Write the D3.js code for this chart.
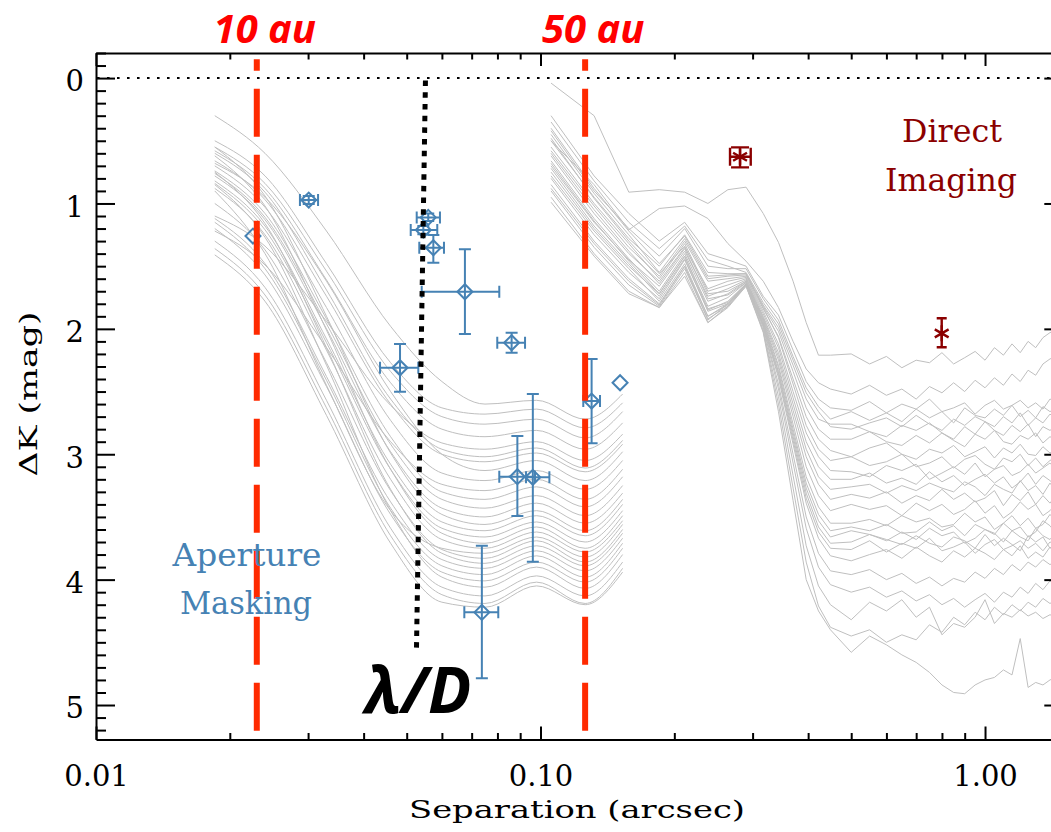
<!DOCTYPE html>
<html>
<head>
<meta charset="utf-8">
<script src="https://cdn.jsdelivr.net/npm/d3@7"></script>
<style>
  body { margin: 0; background: #fff; }
  svg { display: block; }
</style>
</head>
<body>
<svg id="chart" width="1051" height="832"></svg>
<script>
// ---------------------------------------------------------------
// Contrast curves: aperture masking (inner) and direct imaging (outer)
// ---------------------------------------------------------------

// Aperture-masking contrast curves, ΔK sampled at these separations (arcsec)
const amSep = [0.0185, 0.024, 0.033, 0.046, 0.060, 0.075, 0.098, 0.126, 0.153];
const amCurves = [
  [0.30, 0.60, 1.22, 1.98, 2.42, 2.60, 2.57, 2.72, 2.52],
  [0.50, 0.78, 1.48, 2.27, 2.63, 2.68, 2.64, 2.79, 2.59],
  [0.55, 0.84, 1.54, 2.34, 2.70, 2.76, 2.72, 2.87, 2.66],
  [0.58, 0.88, 1.61, 2.43, 2.80, 2.86, 2.81, 2.96, 2.75],
  [1.10, 1.34, 1.94, 2.61, 2.91, 2.96, 2.90, 3.05, 2.84],
  [0.66, 0.97, 1.74, 2.60, 3.00, 3.06, 2.99, 3.14, 2.92],
  [0.68, 0.95, 1.62, 2.50, 3.00, 3.13, 3.05, 3.21, 2.98],
  [0.70, 1.03, 1.83, 2.73, 3.15, 3.21, 3.13, 3.28, 3.05],
  [1.22, 1.49, 2.15, 2.90, 3.24, 3.29, 3.20, 3.36, 3.12],
  [0.74, 1.08, 1.92, 2.86, 3.30, 3.36, 3.26, 3.42, 3.18],
  [0.76, 1.11, 1.96, 2.92, 3.36, 3.43, 3.33, 3.49, 3.25],
  [0.78, 1.13, 2.00, 2.98, 3.43, 3.50, 3.39, 3.55, 3.31],
  [0.55, 0.94, 1.90, 2.99, 3.48, 3.56, 3.45, 3.61, 3.36],
  [0.82, 1.18, 2.08, 3.08, 3.54, 3.61, 3.49, 3.65, 3.40],
  [0.84, 1.21, 2.11, 3.12, 3.59, 3.66, 3.54, 3.70, 3.45],
  [0.62, 1.02, 2.01, 3.12, 3.63, 3.71, 3.58, 3.75, 3.49],
  [0.88, 1.25, 2.17, 3.20, 3.68, 3.75, 3.62, 3.78, 3.53],
  [0.60, 0.91, 1.69, 2.56, 2.96, 3.02, 2.95, 3.11, 2.89],
  [0.90, 1.40, 2.45, 3.45, 3.75, 3.79, 3.66, 3.82, 3.56],
  [1.00, 1.37, 2.27, 3.29, 3.76, 3.83, 3.69, 3.86, 3.60],
  [0.75, 1.16, 2.15, 3.28, 3.79, 3.87, 3.73, 3.89, 3.63],
  [1.12, 1.48, 2.38, 3.38, 3.84, 3.91, 3.77, 3.93, 3.67],
  [1.15, 1.52, 2.41, 3.43, 3.89, 3.96, 3.81, 3.98, 3.71],
  [1.20, 1.57, 2.46, 3.48, 3.94, 4.01, 3.86, 4.02, 3.75],
  [0.85, 1.27, 2.29, 3.45, 3.98, 4.06, 3.90, 4.07, 3.80],
  [1.30, 1.67, 2.57, 3.59, 4.06, 4.13, 3.97, 4.13, 3.86],
  [1.36, 1.73, 2.63, 3.65, 4.12, 4.19, 4.02, 4.19, 3.91],
  [1.41, 1.78, 2.69, 3.71, 4.18, 4.22, 4.05, 4.20, 3.94]
];

// Direct-imaging contrast curves, ΔK sampled at these separations (arcsec)
const diSep = [0.1056, 0.132, 0.158, 0.185, 0.211, 0.238, 0.264, 0.290,
  0.317, 0.343, 0.370, 0.396, 0.422, 0.449, 0.50, 0.55, 0.60, 0.65, 0.70,
  0.75, 0.80, 0.85, 0.90, 0.95, 1.00, 1.05, 1.10, 1.15, 1.20, 1.25, 1.30,
  1.35, 1.40, 1.45];
const diCurves = [
  [0.04,0.30,0.91,0.89,0.91,1.00,0.89,0.87, 1.08,1.31,1.62,1.95,2.21,2.21, 2.20,2.28,2.22,2.31,2.25,2.27,2.19,2.28,2.23,2.18, 2.25,2.15,2.21,2.12,2.19,2.10,2.15,2.07,2.03,2.01],
  [0.50,0.85,1.21,1.04,1.02,1.12,1.32,1.46, 1.62,1.83,2.10,2.32,2.43,2.48, 2.52,2.45,2.53,2.48,2.56,2.46,2.51,2.43,2.50,2.41, 2.47,2.39,2.45,2.36,2.42,2.33,2.37,2.28,2.24,2.22],
  [0.30,0.78,1.08,1.30,1.15,1.40,1.45,1.50, 1.74,1.89,2.17,2.42,2.56,2.63, 2.65,2.58,2.67,2.60,2.64,2.56,2.66,2.63,2.59,2.68, 2.61,2.57,2.64,2.61,2.57,2.63,2.59,2.64,2.56,2.58],
  [0.42,0.90,1.20,1.42,1.20,1.50,1.52,1.52, 1.76,1.93,2.22,2.47,2.62,2.72, 2.66,2.73,2.67,2.74,2.64,2.71,2.66,2.75,2.63,2.69, 2.71,2.64,2.69,2.61,2.70,2.65,2.71,2.62,2.66,2.63],
  [0.35,0.82,1.15,1.36,1.18,1.45,1.50,1.55, 1.79,1.96,2.25,2.51,2.66,2.78, 2.80,2.75,2.71,2.78,2.69,2.76,2.81,2.72,2.77,2.70, 2.74,2.78,2.70,2.75,2.67,2.77,2.71,2.75,2.68,2.72],
  [0.50,0.95,1.28,1.50,1.25,1.55,1.56,1.56, 1.81,1.99,2.29,2.56,2.72,2.76, 2.76,2.82,2.86,2.77,2.81,2.75,2.83,2.88,2.78,2.84, 2.74,2.81,2.85,2.77,2.82,2.76,2.86,2.78,2.81,2.77],
  [0.45,0.92,1.25,1.55,1.28,1.60,1.58,1.57, 1.82,2.02,2.34,2.63,2.80,2.88, 2.88,2.82,2.90,2.93,2.85,2.91,2.83,2.89,2.94,2.84, 2.88,2.81,2.90,2.92,2.85,2.88,2.83,2.91,2.86,2.89],
  [0.58,1.02,1.35,1.58,1.30,1.62,1.60,1.58, 1.84,2.06,2.40,2.70,2.88,2.97, 3.02,2.95,2.91,3.00,3.04,2.96,2.99,2.93,3.02,2.98, 2.94,3.03,2.95,2.99,2.92,3.00,3.01,2.94,2.99,2.96],
  [0.40,0.88,1.22,1.48,1.26,1.58,1.57,1.56, 1.83,2.07,2.44,2.77,2.96,3.05, 3.02,3.09,3.06,3.00,3.10,3.07,3.02,3.11,3.04,3.01, 3.08,3.12,3.03,3.06,3.00,3.09,3.03,3.10,3.05,3.02],
  [0.62,1.08,1.40,1.62,1.35,1.68,1.62,1.59, 1.86,2.12,2.50,2.83,3.02,3.13, 3.14,3.18,3.09,3.13,3.08,3.20,3.15,3.10,3.16,3.07, 3.18,3.12,3.09,3.17,3.14,3.08,3.15,3.11,3.07,3.13],
  [0.55,1.00,1.32,1.60,1.32,1.70,1.65,1.60, 1.88,2.15,2.55,2.90,3.10,3.20, 3.20,3.15,3.23,3.19,3.24,3.14,3.22,3.17,3.25,3.20, 3.16,3.23,3.18,3.27,3.22,3.15,3.24,3.17,3.21,3.26],
  [0.70,1.15,1.45,1.66,1.38,1.74,1.68,1.61, 1.90,2.19,2.60,2.96,3.18,3.28, 3.26,3.24,3.31,3.25,3.29,3.23,3.27,3.30,3.22,3.26, 3.33,3.24,3.28,3.31,3.21,3.29,3.25,3.32,3.23,3.30],
  [0.48,0.96,1.30,1.56,1.34,1.72,1.70,1.62, 1.91,2.22,2.65,3.02,3.24,3.36, 3.32,3.35,3.30,3.39,3.33,3.37,3.28,3.36,3.31,3.38, 3.35,3.29,3.41,3.32,3.37,3.30,3.40,3.33,3.39,3.32],
  [0.66,1.12,1.44,1.70,1.40,1.78,1.72,1.62, 1.92,2.25,2.70,3.10,3.33,3.45, 3.40,3.44,3.41,3.49,3.39,3.45,3.40,3.48,3.44,3.37, 3.47,3.41,3.51,3.46,3.38,3.44,3.40,3.49,3.45,3.39],
  [0.75,1.20,1.50,1.72,1.42,1.82,1.75,1.63, 1.93,2.29,2.76,3.18,3.42,3.55, 3.55,3.52,3.57,3.49,3.54,3.51,3.58,3.56,3.47,3.54, 3.50,3.60,3.55,3.49,3.57,3.51,3.59,3.56,3.48,3.54],
  [0.60,1.05,1.38,1.64,1.36,1.76,1.73,1.63, 1.94,2.31,2.80,3.23,3.48,3.61, 3.58,3.61,3.56,3.63,3.62,3.54,3.61,3.57,3.65,3.56, 3.60,3.64,3.55,3.61,3.58,3.66,3.62,3.53,3.57,3.64],
  [0.80,1.25,1.55,1.76,1.45,1.85,1.78,1.64, 1.95,2.34,2.83,3.27,3.53,3.66, 3.61,3.64,3.69,3.62,3.68,3.59,3.65,3.62,3.71,3.67, 3.60,3.63,3.70,3.61,3.66,3.69,3.59,3.65,3.68,3.61],
  [0.72,1.18,1.48,1.74,1.44,1.86,1.80,1.64, 1.96,2.35,2.86,3.31,3.58,3.71, 3.70,3.64,3.68,3.72,3.65,3.71,3.74,3.66,3.69,3.75, 3.64,3.73,3.67,3.72,3.77,3.65,3.70,3.66,3.75,3.71],
  [0.85,1.30,1.60,1.80,1.50,1.90,1.80,1.65, 1.97,2.37,2.89,3.35,3.62,3.75, 3.76,3.69,3.78,3.71,3.75,3.67,3.77,3.74,3.70,3.79, 3.72,3.68,3.76,3.73,3.69,3.75,3.71,3.77,3.70,3.72],
  [0.68,1.14,1.46,1.72,1.42,1.84,1.79,1.64, 1.97,2.39,2.92,3.39,3.67,3.81, 3.85,3.80,3.76,3.83,3.74,3.81,3.86,3.77,3.82,3.75, 3.79,3.84,3.76,3.81,3.73,3.83,3.78,3.82,3.74,3.79],
  [0.90,1.35,1.65,1.82,1.52,1.92,1.82,1.65, 1.98,2.44,3.00,3.50,3.79,3.93, 3.96,3.92,4.00,3.95,4.03,3.98,4.05,3.99,4.02,3.94, 3.99,3.91,3.96,3.88,3.93,3.86,3.90,3.84,3.88,3.85],
  [0.78,1.22,1.52,1.78,1.48,1.90,1.81,1.65, 1.99,2.48,3.07,3.59,3.90,4.04, 4.10,4.06,4.14,4.09,4.17,4.12,4.20,4.15,4.22,4.16, 4.11,4.18,4.10,4.14,4.06,4.11,4.03,4.08,4.01,4.05],
  [0.95,1.40,1.70,1.83,1.55,1.95,1.82,1.66, 2.01,2.54,3.17,3.73,4.05,4.20, 4.32,4.18,4.25,4.16,4.30,4.22,4.44,4.35,4.38,4.30, 4.16,4.35,4.27,4.30,4.24,4.29,4.26,4.31,4.28,4.30],
  [0.88,1.32,1.62,1.81,1.50,1.93,1.80,1.65, 2.02,2.60,3.27,3.86,4.21,4.38, 4.45,4.40,4.50,4.44,4.48,4.36,4.42,4.30,4.36,4.26, 4.32,4.22,4.28,4.20,4.25,4.18,4.22,4.15,4.19,4.16],
  [0.99,1.42,1.72,1.83,1.58,1.95,1.83,1.66, 2.03,2.66,3.37,4.00,4.25,4.40, 4.58,4.45,4.52,4.60,4.66,4.74,4.84,4.90,4.91,4.84, 4.80,4.78,4.72,4.76,4.47,4.86,4.82,4.84,4.80,4.78]
];

// Companions detected with aperture masking (separation, ΔK, error ranges)
const maskSep   = [0.02255, 0.0301, 0.0559, 0.0545, 0.0574, 0.0676, 0.0861, 0.0483, 0.1303, 0.1510, 0.0887, 0.0961, 0.0738];
const maskDk    = [1.26, 0.973, 1.111, 1.212, 1.353, 1.704, 2.111, 2.310, 2.576, 2.430, 3.179, 3.184, 4.261];
const maskSepLo = [null, 0.02876, 0.05266, 0.05105, 0.05337, 0.05404, 0.07993, 0.04355, 0.1248, null, 0.08077, 0.09277, 0.06739];
const maskSepHi = [null, 0.03159, 0.05940, 0.05858, 0.06065, 0.08077, 0.09230, 0.05310, 0.1361, null, 0.09718, 0.1047, 0.08035];
const maskDkLo  = [null, 0.94, 1.08, 1.18, 1.252, 1.366, 2.031, 2.121, 2.241, null, 2.855, 2.520, 3.730];
const maskDkHi  = [null, 1.005, 1.14, 1.245, 1.473, 2.041, 2.191, 2.502, 2.913, null, 3.493, 3.857, 4.787];

// Companions detected with direct imaging
const imgSep   = [0.2811, 0.799];
const imgDk    = [0.628, 2.036];
const imgSepLo = [0.2669, null];
const imgSepHi = [0.2971, null];
const imgDkLo  = [0.553, 1.916];
const imgDkHi  = [0.712, 2.147];

// Reference separations: projected 10 au and 50 au, and the λ/D limit
const auSep = [0.0230, 0.126];
const auLabels = ["10 au", "50 au"];
const lambdaSep = [0.0551, 0.0526];
const lambdaDk  = [0.02, 4.55];

// Axis ticks
const xMajor = [0.01, 0.1, 1];
const xMajorLabels = ["0.01", "0.10", "1.00"];
const yMajor = [0, 1, 2, 3, 4, 5];
const yMajorLabels = ["0", "1", "2", "3", "4", "5"];

// ---------------------------------------------------------------
const svg = d3.select("#chart");
const X0 = 96, X1 = 1063.3, Y0 = 53, Y1 = 739.5;
const x = d3.scaleLog().domain([0.01, 1.5]).range([X0, X1]);
const y = d3.scaleLinear().domain([-0.2, 5.275]).range([Y0, Y1]);

const SERIF = "'DejaVu Serif', serif";
const SANS = "'Open Sans', 'Liberation Sans', sans-serif";
const BLUE = "#4682b4";
const DARKRED = "#8b0000";

svg.append("defs").append("clipPath").attr("id", "plotArea")
  .append("rect").attr("x", X0).attr("y", Y0)
  .attr("width", X1 - X0).attr("height", Y1 - Y0);

// grey contrast curves
const curves = svg.append("g").attr("clip-path", "url(#plotArea)")
  .attr("fill", "none").attr("stroke", "#bfbfbf").attr("stroke-width", 1);

const amLine = d3.line().curve(d3.curveMonotoneX)
  .x(d => x(d[0])).y(d => y(d[1]));
curves.selectAll("path.am").data(amCurves).join("path")
  .attr("class", "am")
  .attr("d", c => amLine(c.map((v, i) => [amSep[i], v])));

const diLine = d3.line().x(d => x(d[0])).y(d => y(d[1]));
curves.selectAll("path.di").data(diCurves).join("path")
  .attr("class", "di")
  .attr("d", c => diLine(c.map((v, i) => [diSep[i], v])));

// aperture-masking detections: diamonds with error bars
const maskPts = maskSep.map((s, i) => ({
  s, dk: maskDk[i], sLo: maskSepLo[i], sHi: maskSepHi[i], dLo: maskDkLo[i], dHi: maskDkHi[i]
}));
const gMask = svg.append("g").attr("stroke", BLUE).attr("fill", "none")
  .attr("stroke-width", 2);
const CAP = 6, DIA = 7.5;
maskPts.forEach(p => {
  const cx = x(p.s), cy = y(p.dk);
  const g = gMask.append("g");
  if (p.sLo != null) {
    const a = x(p.sLo), b = x(p.sHi);
    g.append("path").attr("d",
      `M${a},${cy}H${b}M${a},${cy - CAP}V${cy + CAP}M${b},${cy - CAP}V${cy + CAP}`);
  }
  if (p.dLo != null) {
    const a = y(p.dLo), b = y(p.dHi);
    g.append("path").attr("d",
      `M${cx},${a}V${b}M${cx - CAP},${a}H${cx + CAP}M${cx - CAP},${b}H${cx + CAP}`);
  }
  g.append("path").attr("d",
    `M${cx - DIA},${cy}L${cx},${cy - DIA}L${cx + DIA},${cy}L${cx},${cy + DIA}Z`);
});

// direct-imaging detections: asterisks with error bars
const imgPts = imgSep.map((s, i) => ({
  s, dk: imgDk[i], sLo: imgSepLo[i], sHi: imgSepHi[i], dLo: imgDkLo[i], dHi: imgDkHi[i]
}));
const gImg = svg.append("g").attr("stroke", DARKRED).attr("fill", "none")
  .attr("stroke-width", 2.4);
imgPts.forEach(p => {
  const cx = x(p.s), cy = y(p.dk);
  const g = gImg.append("g");
  const cap = p.sLo != null ? 9 : 5;
  if (p.sLo != null) {
    const a = x(p.sLo), b = x(p.sHi);
    g.append("path").attr("d",
      `M${a},${cy}H${b}M${a},${cy - cap}V${cy + cap}M${b},${cy - cap}V${cy + cap}`);
  }
  if (p.dLo != null) {
    const a = y(p.dLo), b = y(p.dHi);
    g.append("path").attr("d",
      `M${cx},${a}V${b}M${cx - cap},${a}H${cx + cap}M${cx - cap},${b}H${cx + cap}`);
  }
  const r = 8, dx = r * Math.cos(Math.PI / 6), dy = r * Math.sin(Math.PI / 6);
  g.append("path").attr("d",
    `M${cx},${cy - r}V${cy + r}M${cx - dx},${cy - dy}L${cx + dx},${cy + dy}M${cx - dx},${cy + dy}L${cx + dx},${cy - dy}`);
});

// 10 au / 50 au dashed markers
svg.append("g").selectAll("line").data(auSep).join("line")
  .attr("x1", d => x(d)).attr("x2", d => x(d))
  .attr("y1", y(-0.15)).attr("y2", y(5.22))
  .attr("stroke", "#ff2a00").attr("stroke-width", 6)
  .attr("stroke-dasharray", "48 18").attr("stroke-dashoffset", 36.6);

// λ/D dotted line
svg.append("line")
  .attr("x1", x(lambdaSep[0])).attr("y1", y(lambdaDk[0]))
  .attr("x2", x(lambdaSep[1])).attr("y2", y(lambdaDk[1]))
  .attr("stroke", "#000").attr("stroke-width", 5)
  .attr("stroke-dasharray", "5.5 6.2");

// ΔK = 0 reference line
svg.append("line")
  .attr("x1", X0).attr("x2", X1).attr("y1", y(0)).attr("y2", y(0))
  .attr("stroke", "#000").attr("stroke-width", 2)
  .attr("stroke-dasharray", "2.6 7.4").attr("stroke-dashoffset", -1);

// ---------------- axes ----------------
function styleAxis(g) {
  g.attr("font-family", null).attr("font-size", null);
  g.select(".domain").attr("stroke", "#000").attr("stroke-width", 2);
  g.selectAll(".tick line").attr("stroke", "#000").attr("stroke-width", 2);
}
const xMinor = x.ticks().filter(t => !xMajor.some(m => Math.abs(m - t) < 1e-9));
const yMinor = y.ticks(55).filter(t => Math.abs(t - Math.round(t)) > 1e-6);

// bottom
const gB = svg.append("g").attr("transform", `translate(0,${Y1})`)
  .call(d3.axisBottom(x).tickValues(xMajor).tickSize(-13).tickSizeOuter(0)
    .tickFormat((d, i) => xMajorLabels[i]));
styleAxis(gB);
gB.selectAll("text").attr("y", 46.5).attr("dy", 0)
  .attr("font-family", SERIF).attr("font-size", 29).attr("fill", "#000");
const gBm = svg.append("g").attr("transform", `translate(0,${Y1})`)
  .call(d3.axisBottom(x).tickValues(xMinor).tickSize(-6.5).tickFormat(""));
styleAxis(gBm); gBm.select(".domain").remove();

// top
const gT = svg.append("g").attr("transform", `translate(0,${Y0})`)
  .call(d3.axisTop(x).tickValues(xMajor).tickSize(-13).tickSizeOuter(0).tickFormat(""));
styleAxis(gT);
const gTm = svg.append("g").attr("transform", `translate(0,${Y0})`)
  .call(d3.axisTop(x).tickValues(xMinor).tickSize(-6.5).tickFormat(""));
styleAxis(gTm); gTm.select(".domain").remove();

// left
const gL = svg.append("g").attr("transform", `translate(${X0},0)`)
  .call(d3.axisLeft(y).tickValues(yMajor).tickSize(-19).tickSizeOuter(0)
    .tickFormat((d, i) => yMajorLabels[i]));
styleAxis(gL);
gL.selectAll("text").attr("x", -12).attr("dy", "0.44em")
  .attr("font-family", SERIF).attr("font-size", 29).attr("fill", "#000");
const gLm = svg.append("g").attr("transform", `translate(${X0},0)`)
  .call(d3.axisLeft(y).tickValues(yMinor).tickSize(-10).tickFormat(""));
styleAxis(gLm); gLm.select(".domain").remove();

// right
const gR = svg.append("g").attr("transform", `translate(${X1},0)`)
  .call(d3.axisRight(y).tickValues(yMajor).tickSize(-19).tickSizeOuter(0).tickFormat(""));
styleAxis(gR);
const gRm = svg.append("g").attr("transform", `translate(${X1},0)`)
  .call(d3.axisRight(y).tickValues(yMinor).tickSize(-10).tickFormat(""));
styleAxis(gRm); gRm.select(".domain").remove();

// ---------------- titles & annotations ----------------
function stretchedText(txt, cx, baseline, len, size, color) {
  return svg.append("text")
    .attr("x", cx - len / 2).attr("y", baseline)
    .attr("textLength", len).attr("lengthAdjust", "spacingAndGlyphs")
    .attr("font-family", SERIF).attr("font-size", size).attr("fill", color)
    .text(txt);
}
stretchedText("Separation (arcsec)", 577, 818, 336, 25, "#000");
svg.append("text")
  .attr("transform", "translate(37,394) rotate(-90)")
  .attr("x", -82.5).attr("y", 0)
  .attr("textLength", 165).attr("lengthAdjust", "spacingAndGlyphs")
  .attr("font-family", SERIF).attr("font-size", 25).attr("fill", "#000")
  .text("ΔK (mag)");

stretchedText("Aperture", 247, 566, 149, 31, BLUE);
stretchedText("Masking", 246, 614, 132, 31, BLUE);
stretchedText("Direct", 952, 142, 100, 31, DARKRED);
stretchedText("Imaging", 951, 191, 132, 31, DARKRED);

svg.append("g").selectAll("text").data(auSep).join("text")
  .attr("x", d => x(d) + 8).attr("y", 43)
  .attr("text-anchor", "middle")
  .attr("font-family", SANS).attr("font-weight", 700).attr("font-style", "italic")
  .attr("font-size", 40).attr("fill", "#ff0000")
  .text((d, i) => auLabels[i]);

svg.append("text")
  .attr("x", 418).attr("y", 713).attr("text-anchor", "middle")
  .attr("font-family", SANS).attr("font-weight", 700).attr("font-style", "italic")
  .attr("font-size", 64).attr("fill", "#000")
  .text("λ/D");
</script>
</body>
</html>
